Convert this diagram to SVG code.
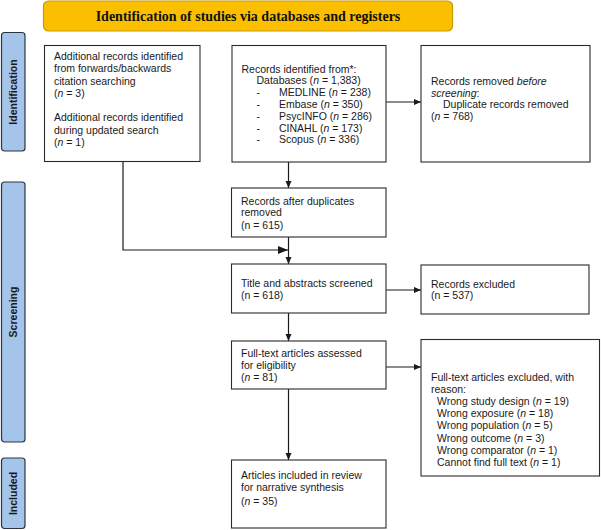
<svg xmlns="http://www.w3.org/2000/svg" width="601" height="530" viewBox="0 0 601 530">
<defs>
<style>
.box{fill:#fff;stroke:#2b2b2b;stroke-width:1.1}
.t{font-family:"Liberation Sans",Arial,sans-serif;font-size:10.5px;fill:#1a1a1a}
.side{fill:#a4c4ea;stroke:#2a3440;stroke-width:1.2}
.st{font-family:"Liberation Sans",Arial,sans-serif;font-size:10.5px;font-weight:bold;fill:#1a1a1a}
.ln{fill:none;stroke:#1a1a1a;stroke-width:1.2}
.i{font-style:italic}
</style>
<marker id="ah" markerUnits="userSpaceOnUse" markerWidth="8" markerHeight="7" refX="7" refY="3" orient="auto">
<path d="M0,0 L7,3 L0,6 z" fill="#1a1a1a"/>
</marker>
<marker id="ahb" markerUnits="userSpaceOnUse" markerWidth="11" markerHeight="9" refX="10" refY="4" orient="auto">
<path d="M0,0 L10,4 L0,8 z" fill="#1a1a1a"/>
</marker>
</defs>
<rect width="601" height="530" fill="#fff"/>

<g id="banner">
<rect x="43.5" y="1" width="409" height="30" rx="5" fill="#fbbf00" stroke="#c99a00" stroke-width="1.2"/>
<text x="248" y="21" text-anchor="middle" font-family="Liberation Serif,'Times New Roman',serif" font-size="14" font-weight="bold" fill="#111">Identification of studies via databases and registers</text>
</g>

<g id="side-identification">
<rect class="side" x="1.5" y="32.5" width="23.5" height="118.5" rx="3"/>
<text class="st" transform="translate(17,92) rotate(-90)" text-anchor="middle">Identification</text>
</g>
<g id="side-screening">
<rect class="side" x="1.5" y="182" width="23.5" height="260" rx="3"/>
<text class="st" transform="translate(17,312) rotate(-90)" text-anchor="middle">Screening</text>
</g>
<g id="side-included">
<rect class="side" x="1.5" y="458" width="23.5" height="70.5" rx="3"/>
<text class="st" transform="translate(17,493.5) rotate(-90)" text-anchor="middle">Included</text>
</g>

<g id="connectors">
<line class="ln" x1="288.5" y1="162" x2="288.5" y2="188" marker-end="url(#ah)"/>
<line class="ln" x1="288.5" y1="237" x2="288.5" y2="264" marker-end="url(#ah)"/>
<polyline class="ln" points="123,161 123,250 288,250" marker-end="url(#ahb)"/>
<line class="ln" x1="288.5" y1="313" x2="288.5" y2="341" marker-end="url(#ah)"/>
<line class="ln" x1="288.5" y1="389" x2="288.5" y2="460" marker-end="url(#ah)"/>
<line class="ln" x1="386" y1="102" x2="421" y2="102" marker-end="url(#ah)"/>
<line class="ln" x1="386" y1="290" x2="421" y2="290" marker-end="url(#ah)"/>
<line class="ln" x1="386" y1="367" x2="421" y2="367" marker-end="url(#ah)"/>
</g>

<g id="additional-records">
<rect class="box" x="44.5" y="45.5" width="155.5" height="116"/>
<text class="t" x="54" y="60.2">Additional records identified</text>
<text class="t" x="54" y="72.4">from forwards/backwards</text>
<text class="t" x="54" y="84.6">citation searching</text>
<text class="t" x="54" y="96.8">(<tspan class="i">n</tspan> = 3)</text>
<text class="t" x="54" y="121.4">Additional records identified</text>
<text class="t" x="54" y="133.6">during updated search</text>
<text class="t" x="54" y="145.8">(<tspan class="i">n</tspan> = 1)</text>
</g>

<g id="records-identified">
<rect class="box" x="232" y="45.5" width="154" height="116.5"/>
<text class="t" x="241.5" y="72.5">Records identified from*:</text>
<text class="t" x="256.5" y="84.3">Databases (<tspan class="i">n</tspan> = 1,383)</text>
<text class="t" x="256.5" y="96.1">-</text><text class="t" x="279" y="96.1">MEDLINE (<tspan class="i">n</tspan> = 238)</text>
<text class="t" x="256.5" y="107.9">-</text><text class="t" x="279" y="107.9">Embase (<tspan class="i">n</tspan> = 350)</text>
<text class="t" x="256.5" y="119.7">-</text><text class="t" x="279" y="119.7">PsycINFO (<tspan class="i">n</tspan> = 286)</text>
<text class="t" x="256.5" y="131.5">-</text><text class="t" x="279" y="131.5">CINAHL (<tspan class="i">n</tspan> = 173)</text>
<text class="t" x="256.5" y="143.3">-</text><text class="t" x="279" y="143.3">Scopus (<tspan class="i">n</tspan> = 336)</text>
</g>

<g id="records-removed">
<rect class="box" x="421" y="45.5" width="169" height="116.5"/>
<text class="t" x="431" y="85">Records removed <tspan class="i">before</tspan></text>
<text class="t" x="431" y="96.8"><tspan class="i">screening</tspan>:</text>
<text class="t" x="443" y="108.3">Duplicate records removed</text>
<text class="t" x="431" y="120">(<tspan class="i">n</tspan> = 768)</text>
</g>

<g id="after-duplicates">
<rect class="box" x="231.5" y="188" width="154.5" height="49"/>
<text class="t" x="241" y="204.5">Records after duplicates</text>
<text class="t" x="241" y="216.3">removed</text>
<text class="t" x="241" y="228.5">(n = 615)</text>
</g>

<g id="title-abstracts">
<rect class="box" x="231.5" y="264" width="154.5" height="49"/>
<text class="t" x="241" y="286.8">Title and abstracts screened</text>
<text class="t" x="241" y="299.2">(n = 618)</text>
</g>

<g id="records-excluded">
<rect class="box" x="421" y="265" width="168" height="49"/>
<text class="t" x="431" y="287.8">Records excluded</text>
<text class="t" x="431" y="299.4">(n = 537)</text>
</g>

<g id="fulltext-assessed">
<rect class="box" x="231.5" y="341" width="154.5" height="48"/>
<text class="t" x="241" y="356.8">Full-text articles assessed</text>
<text class="t" x="241" y="369.2">for eligibility</text>
<text class="t" x="241" y="381.2">(<tspan class="i">n</tspan> = 81)</text>
</g>

<g id="fulltext-excluded">
<rect class="box" x="421" y="339.5" width="178.5" height="136.5"/>
<text class="t" x="431" y="381.2">Full-text articles excluded, with</text>
<text class="t" x="431" y="393.2">reason:</text>
<text class="t" x="437" y="405.3">Wrong study design (<tspan class="i">n</tspan> = 19)</text>
<text class="t" x="437" y="417.4">Wrong exposure (<tspan class="i">n</tspan> = 18)</text>
<text class="t" x="437" y="429.4">Wrong population (<tspan class="i">n</tspan> = 5)</text>
<text class="t" x="437" y="441.5">Wrong outcome (<tspan class="i">n</tspan> = 3)</text>
<text class="t" x="437" y="453.5">Wrong comparator (<tspan class="i">n</tspan> = 1)</text>
<text class="t" x="437" y="465.5">Cannot find full text (<tspan class="i">n</tspan> = 1)</text>
</g>

<g id="articles-included">
<rect class="box" x="231.5" y="460" width="154.5" height="68"/>
<text class="t" x="241" y="479.2">Articles included in review</text>
<text class="t" x="241" y="491.4">for narrative synthesis</text>
<text class="t" x="241" y="504.5">(<tspan class="i">n</tspan> = 35)</text>
</g>
</svg>
